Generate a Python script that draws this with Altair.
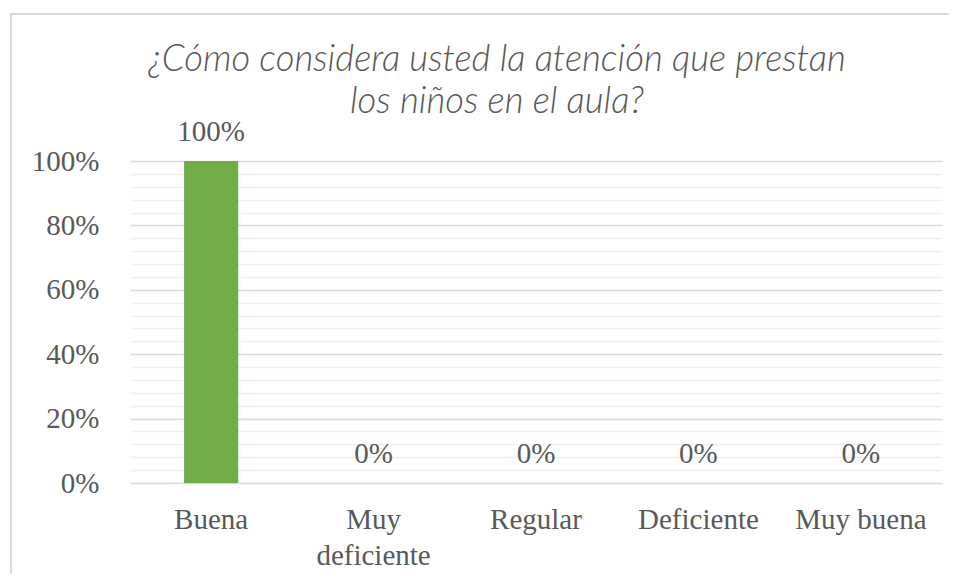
import altair as alt
import pandas as pd

categorias = ["Buena", "Muy deficiente", "Regular", "Deficiente", "Muy buena"]
valores = [1.0, 0.0, 0.0, 0.0, 0.0]
ticks_y = [i / 100 for i in range(0, 101, 4)]
titulo = ["¿Cómo considera usted la atención que prestan", "los niños en el aula?"]

df = pd.DataFrame({"categoria": categorias, "valor": valores})

GRIS = "#595959"
SERIF = "Liberation Serif"

x_enc = alt.X(
    "categoria:N",
    sort=categorias,
    title=None,
    scale=alt.Scale(paddingInner=0.667, paddingOuter=0.333),
    axis=alt.Axis(
        labelAngle=0,
        labelFont=SERIF,
        labelFontSize=29,
        labelColor=GRIS,
        labelPadding=22,
        labelLineHeight=36,
        labelBaseline="top",
        labelExpr="datum.label == 'Muy deficiente' ? ['Muy', 'deficiente'] : datum.label",
        domain=False,
        ticks=False,
        grid=False,
    ),
)

y_enc = alt.Y(
    "valor:Q",
    title=None,
    scale=alt.Scale(domain=[0, 1], nice=False),
    axis=alt.Axis(
        values=ticks_y,
        tickCount=len(ticks_y),
        labelExpr="round(datum.value*100) % 20 === 0 ? format(datum.value, '.0%') : ''",
        labelOverlap=False,
        labelFont=SERIF,
        labelFontSize=29,
        labelColor=GRIS,
        labelPadding=31,
        domain=False,
        ticks=False,
        gridColor={"condition": {"test": "round(datum.value*100) % 20 === 0", "value": "#d9d9d9"}, "value": "#f0f0f0"},
        gridWidth=1.5,
    ),
)

base = alt.Chart(df)

barras = base.mark_bar(color="#70ad47").encode(x=x_enc, y=y_enc)

etiquetas = base.mark_text(
    font=SERIF, fontSize=29, color=GRIS, baseline="alphabetic", dy=-20
).encode(
    x=alt.X("categoria:N", sort=categorias),
    y=alt.Y("valor:Q"),
    text=alt.Text("valor:Q", format=".0%"),
)

marco = alt.Chart(pd.DataFrame({"m": [0]})).mark_rect(
    filled=False, stroke="#d9d9d9", strokeWidth=2
).encode(
    x=alt.value(-119), x2=alt.value(900), y=alt.value(-147), y2=alt.value(540)
)

titulo_df = pd.DataFrame({"t": [titulo]})
titulo_mark = alt.Chart(titulo_df).mark_text(
    font="Lato",
    fontSize=36.5,
    fontStyle="italic",
    fontWeight=300,
    color=GRIS,
    lineHeight=42,
    align="center",
    baseline="alphabetic",
).encode(
    x=alt.value(367), y=alt.value(-90), text="t"
)

chart = alt.layer(marco, barras, etiquetas, titulo_mark).properties(
    width=812,
    height=322,
    autosize=alt.AutoSizeParams(type="none"),
    padding={"left": 122, "top": 153, "right": 7, "bottom": 91},
).configure_view(stroke=None)

chart.save("out.html", embed_options={"renderer": "svg", "actions": False})
